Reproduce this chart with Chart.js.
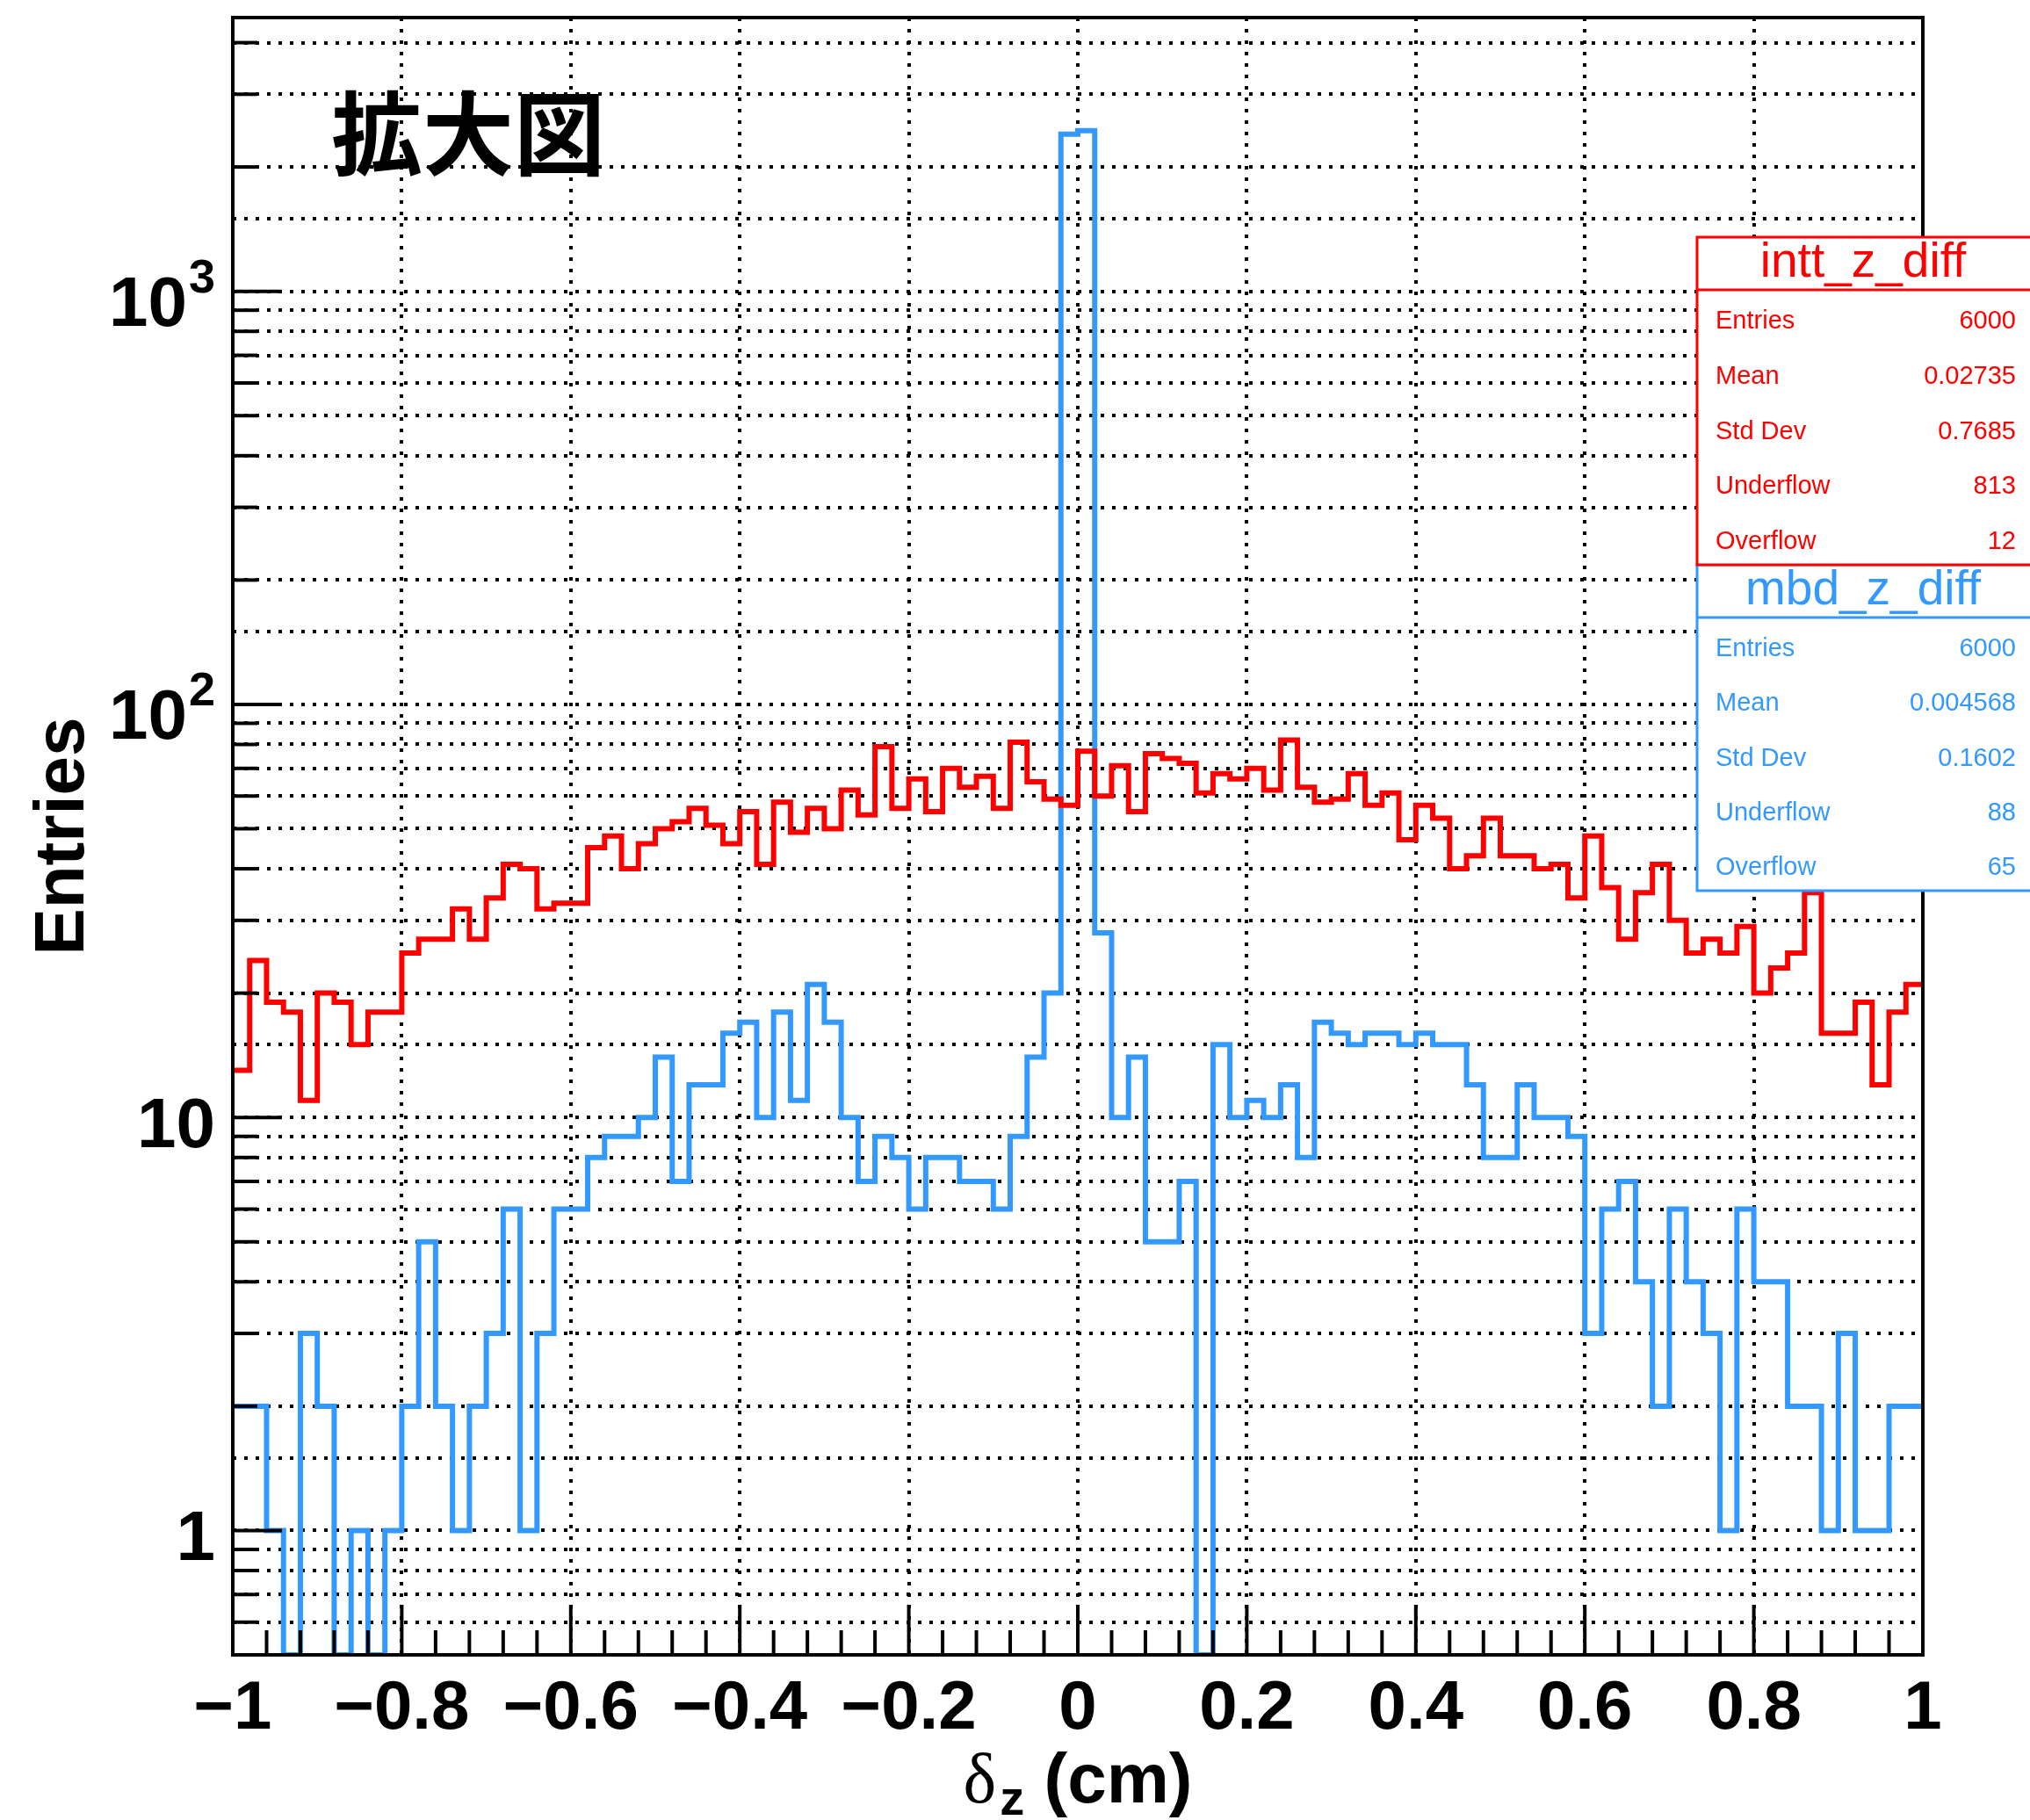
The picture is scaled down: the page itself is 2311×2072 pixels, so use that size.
<!DOCTYPE html>
<html>
<head>
<meta charset="utf-8">
<script src="https://cdn.jsdelivr.net/npm/chart.js@4.4.1/dist/chart.umd.min.js"></script>
<style>
  html, body { margin: 0; padding: 0; background: #fff; }
  #wrap { width: 2311px; height: 2072px; }
</style>
</head>
<body>
<div id="wrap"><canvas id="c" width="2311" height="2072"></canvas></div>
<script>
// ---- data : 100 bins from -1 to 1 ----
const X_MIN = -1;
const X_MAX = 1;

const INTT_COUNTS = [
  13, 24, 19, 18, 11, 20, 19, 15, 18, 18,
  25, 27, 27, 32, 27, 34, 41, 40, 32, 33,
  33, 45, 48, 40, 46, 50, 52, 56, 51, 46,
  55, 41, 58, 49, 56, 50, 62, 54, 79, 56,
  66, 55, 70, 63, 67, 56, 81, 65, 59, 57,
  77, 60, 71, 55, 76, 74, 72, 61, 68, 66,
  70, 62, 82, 63, 58, 59, 68, 57, 61, 47,
  57, 53, 40, 43, 53, 43, 43, 40, 41, 34,
  48, 36, 27, 35, 41, 30, 25, 27, 25, 29,
  20, 23, 25, 35, 16, 16, 19, 12, 18, 21
];

const MBD_COUNTS = [
  2, 2, 1, 0, 3, 2, 0, 1, 0, 1,
  2, 5, 2, 1, 2, 3, 6, 1, 3, 6,
  6, 8, 9, 9, 10, 14, 7, 12, 12, 16,
  17, 10, 18, 11, 21, 17, 10, 7, 9, 8,
  6, 8, 8, 7, 7, 6, 9, 14, 20, 2400,
  2450, 28, 10, 14, 5, 5, 7, 0, 15, 10,
  11, 10, 12, 8, 17, 16, 15, 16, 16, 15,
  16, 15, 15, 12, 8, 8, 12, 10, 10, 9,
  3, 6, 7, 4, 2, 6, 4, 3, 1, 6,
  4, 4, 2, 2, 1, 3, 1, 1, 2, 2
];

const X_STEP = 0.2;
const X_MINOR_STEP = 0.04;
const Y_MIN = 0.5;
const Y_MAX = 4600;
const Y_DECADES = [1, 10, 100, 1000];
const Y_DECADE_BASES = ['1', '10', '10', '10'];
const Y_DECADE_EXPS = ['', '', '2', '3'];

const INTT_STATS = [
  ['Entries', '6000'], ['Mean', '0.02735'], ['Std Dev', '0.7685'],
  ['Underflow', '813'], ['Overflow', '12']
];
const MBD_STATS = [
  ['Entries', '6000'], ['Mean', '0.004568'], ['Std Dev', '0.1602'],
  ['Underflow', '88'], ['Overflow', '65']
];

const RED = '#ff0000';
const BLUE = '#3399ff';
const FONT = '"Liberation Sans", Arial, sans-serif';

// step points : one at each bin low edge, plus the last upper edge
// (empty bins sit on the frame bottom, like ROOT does on a log axis)
function histPoints(counts) {
  const w = (X_MAX - X_MIN) / counts.length;
  const pts = counts.map(function(c, i) { return { x: X_MIN + i * w, y: Math.max(c, Y_MIN) }; });
  pts.push({ x: X_MAX, y: Math.max(counts[counts.length - 1], Y_MIN) });
  return pts;
}

function xLabel(v) {
  const r = Math.round(v * 10) / 10;
  return String(r).replace('-', '\u2212');
}

function decadeIndex(v) {
  return Y_DECADES.findIndex(function(d) { return Math.abs(d - v) < 1e-6 * d; });
}

// ---- drawing of the ROOT-like decorations ----
function drawStatBox(ctx, title, rows, color, top, bottom, header) {
  const left = 1932, right = 2330;
  ctx.save();
  ctx.fillStyle = '#fff';
  ctx.fillRect(left, top, right - left, bottom - top);
  ctx.strokeStyle = color;
  ctx.lineWidth = 3;
  ctx.strokeRect(left, top, right - left, bottom - top);
  ctx.beginPath();
  ctx.moveTo(left, top + header);
  ctx.lineTo(right, top + header);
  ctx.stroke();

  ctx.fillStyle = color;
  ctx.font = '55px ' + FONT;
  ctx.textAlign = 'center';
  ctx.textBaseline = 'alphabetic';
  ctx.fillText(title, 2121, top + 45);

  ctx.font = '29px ' + FONT;
  ctx.textBaseline = 'middle';
  const rowH = (bottom - top - header) / rows.length;
  rows.forEach(function(r, i) {
    const y = top + header + (i + 0.5) * rowH + 5;
    ctx.textAlign = 'left';
    ctx.fillText(r[0], 1953, y);
    ctx.textAlign = 'right';
    ctx.fillText(r[1], 2295, y);
  });
  ctx.restore();
}

const rootDeco = {
  id: 'rootDeco',
  beforeDraw: function(chart) {
    const ctx = chart.ctx;
    ctx.save();
    ctx.fillStyle = '#fff';
    ctx.fillRect(0, 0, chart.width, chart.height);
    ctx.restore();
  },
  afterDraw: function(chart) {
    const ctx = chart.ctx;
    const a = chart.chartArea;
    const xs = chart.scales.x, ys = chart.scales.y;

    ctx.save();
    ctx.strokeStyle = '#000';
    ctx.fillStyle = '#000';
    ctx.lineWidth = 4;
    // inward ticks and labels on y
    ys.ticks.forEach(function(t) {
      const s = t.value / Math.pow(10, Math.floor(Math.log10(t.value) + 1e-9));
      if (Math.abs(s - Math.round(s)) > 1e-6) return;
      if (t.value <= Y_MIN || t.value >= Y_MAX) return;
      const p = ys.getPixelForValue(t.value);
      const d = decadeIndex(t.value);
      ctx.beginPath();
      ctx.moveTo(a.left, p);
      ctx.lineTo(a.left + (d >= 0 ? 56 : 28), p);
      ctx.stroke();
      if (d < 0) return;
      const right = a.left - 20;
      ctx.textBaseline = 'alphabetic';
      ctx.textAlign = 'right';
      let wExp = 0;
      if (Y_DECADE_EXPS[d]) {
        ctx.font = 'bold 54px ' + FONT;
        wExp = ctx.measureText(Y_DECADE_EXPS[d]).width + 2;
        ctx.fillText(Y_DECADE_EXPS[d], right, p + 1);
      }
      ctx.font = 'bold 80px ' + FONT;
      ctx.fillText(Y_DECADE_BASES[d], right - wExp, p + (wExp ? 39 : 34));
    });
    // inward ticks on x
    const n = Math.round((X_MAX - X_MIN) / X_MINOR_STEP);
    for (let i = 1; i < n; i++) {
      const v = X_MIN + i * X_MINOR_STEP;
      const p = xs.getPixelForValue(v);
      const len = (i % Math.round(X_STEP / X_MINOR_STEP) === 0) ? 57 : 28;
      ctx.beginPath();
      ctx.moveTo(p, a.bottom);
      ctx.lineTo(p, a.bottom - len);
      ctx.stroke();
    }
    // frame
    ctx.lineWidth = 4;
    ctx.strokeRect(a.left, a.top, a.right - a.left, a.bottom - a.top);
    ctx.restore();

    // stat boxes
    drawStatBox(ctx, 'mbd_z_diff', MBD_STATS, BLUE, 643, 1014, 60);
    drawStatBox(ctx, 'intt_z_diff', INTT_STATS, RED, 270, 643, 60);

    ctx.save();
    ctx.fillStyle = '#000';
    // title
    ctx.font = 'bold 104px "Noto Sans CJK JP", sans-serif';
    ctx.textAlign = 'left';
    ctx.textBaseline = 'alphabetic';
    ctx.fillText('拡大図', 377, 192);

    // y title
    ctx.save();
    ctx.translate(95, (a.top + a.bottom) / 2);
    ctx.rotate(-Math.PI / 2);
    ctx.font = 'bold 80px ' + FONT;
    ctx.textAlign = 'center';
    ctx.fillText('Entries', 0, 0);
    ctx.restore();

    // x title : delta_z (cm)
    const cx = (a.left + a.right) / 2;
    const base = 2052;
    ctx.font = '80px "Liberation Serif", serif';
    const wD = ctx.measureText('δ').width;
    ctx.font = 'bold 56px ' + FONT;
    const wZ = ctx.measureText('z').width;
    ctx.font = 'bold 80px ' + FONT;
    const wC = ctx.measureText(' (cm)').width;
    let x = cx - (wD + wZ + 4 + wC) / 2;
    ctx.font = '80px "Liberation Serif", serif';
    ctx.fillText('δ', x, base);
    x += wD + 4;
    ctx.font = 'bold 56px ' + FONT;
    ctx.fillText('z', x, base + 14);
    x += wZ;
    ctx.font = 'bold 80px ' + FONT;
    ctx.fillText(' (cm)', x, base);
    ctx.restore();
  }
};

new Chart(document.getElementById('c'), {
  type: 'line',
  data: {
    datasets: [
      {
        label: 'intt_z_diff',
        data: histPoints(INTT_COUNTS),
        borderColor: RED,
        borderWidth: 6,
        stepped: true,
        pointRadius: 0,
        fill: false,
        order: 0
      },
      {
        label: 'mbd_z_diff',
        data: histPoints(MBD_COUNTS),
        borderColor: BLUE,
        borderWidth: 6,
        stepped: true,
        pointRadius: 0,
        fill: false,
        order: 1
      }
    ]
  },
  options: {
    responsive: false,
    animation: false,
    devicePixelRatio: 1,
    layout: { padding: { top: 20, right: 122, left: 0, bottom: 0 } },
    plugins: {
      legend: { display: false },
      tooltip: { enabled: false }
    },
    scales: {
      x: {
        type: 'linear',
        min: X_MIN,
        max: X_MAX,
        afterFit: function(s) { s.height = 188; s.paddingLeft = 0; s.paddingRight = 0; },
        grid: { color: '#000', lineWidth: 4, drawTicks: false },
        border: { display: false, dash: [4, 9] },
        ticks: {
          stepSize: X_STEP,
          autoSkip: false,
          maxRotation: 0,
          padding: 16,
          color: '#000',
          font: { family: FONT, size: 78, weight: 'bold' },
          callback: xLabel
        }
      },
      y: {
        type: 'logarithmic',
        min: Y_MIN,
        max: Y_MAX,
        afterFit: function(s) { s.width = 265; s.paddingTop = 0; s.paddingBottom = 0; },
        grid: { color: '#000', lineWidth: 4, drawTicks: false },
        border: { display: false, dash: [4, 9] },
        ticks: { autoSkip: false, display: false }
      }
    }
  },
  plugins: [rootDeco]
});
</script>
</body>
</html>
